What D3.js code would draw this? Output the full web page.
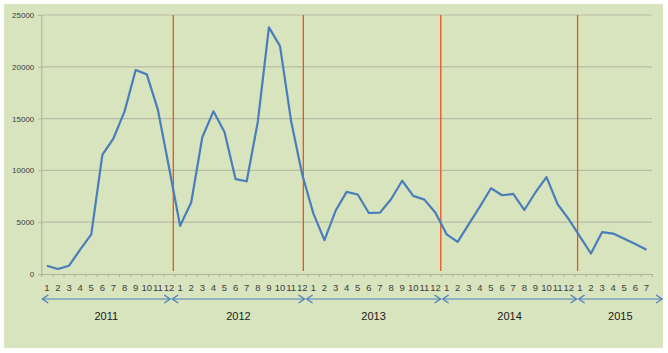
<!DOCTYPE html>
<html>
<head>
<meta charset="utf-8">
<script src="https://cdn.jsdelivr.net/npm/d3@7"></script>
<style>
  body { margin: 0; background: #fff; }
  text { font-family: "Liberation Sans", Arial, sans-serif; }
</style>
</head>
<body>
<svg id="chart" width="668" height="353"></svg>
<script>
// Data
const years = ["2011", "2012", "2013", "2014", "2015"]
const monthsPerYear = [12, 12, 12, 12, 7]
const values = [
  800, 480, 800, 2350, 3820, 11490, 13100, 15700, 19690, 19270, 15860, 10300,
  4650, 6900, 13200, 15700, 13700, 9150, 8950, 14700, 23800, 22000, 14750, 9600,
  5850, 3270, 6100, 7930, 7670, 5890, 5920, 7220, 9000, 7540, 7180, 5920,
  3830, 3100, 4820, 6500, 8280, 7600, 7730, 6180, 7870, 9350, 6730, 5290,
  3640, 1980, 4040, 3900, 3400, 2890, 2350
]
const yTicks = [0, 5000, 10000, 15000, 20000, 25000]
// year divider lines, in category units
const dividers = [11.89, 23.6, 35.98, 48.3]
// year arrow spans, in category units
const spans = [[0, 11.7], [11.7, 23.8], [23.8, 36.05], [36.05, 48.3], [48.3, 56]]

// Month labels 1..n per year
const months = []
monthsPerYear.forEach(n => { for (let m = 1; m <= n; m++) months.push(m) })

const svg = d3.select("#chart")
const margin = {top: 15, right: 16, bottom: 79, left: 41.3}
const width = 668 - margin.left - margin.right
const height = 353 - margin.top - margin.bottom

// Background panel
svg.append("rect")
  .attr("x", 4).attr("y", 4)
  .attr("width", 659).attr("height", 344)
  .attr("fill", "#d8e4bd")

const g = svg.append("g").attr("transform", "translate(" + margin.left + "," + margin.top + ")")

const x = d3.scaleLinear().domain([0, values.length]).range([0, width])
const y = d3.scaleLinear().domain([0, 25000]).range([height, 0])

// Gridlines
g.selectAll(".grid")
  .data(yTicks.filter(d => d > 0))
  .enter().append("line")
    .attr("x1", 0).attr("x2", width)
    .attr("y1", d => y(d)).attr("y2", d => y(d))
    .attr("stroke", "#b7bca6")
    .attr("stroke-width", 1.2)

// Y axis
const yAxis = g.append("g")
  .call(d3.axisLeft(y).tickValues(yTicks).tickFormat(d3.format("d")).tickSize(3).tickPadding(4))
yAxis.select(".domain").attr("stroke", "#b0b0a0")
yAxis.selectAll(".tick line").attr("stroke", "#b0b0a0")
yAxis.selectAll("text").attr("fill", "#404040").style("font-size", "8px")

// X axis (category ticks between months)
const xAxis = g.append("g")
  .attr("transform", "translate(0," + height + ")")
  .call(d3.axisBottom(x).tickValues(d3.range(0, values.length + 1)).tickSize(3).tickFormat(""))
xAxis.select(".domain").attr("stroke", "#b0b0a0")
xAxis.selectAll(".tick line").attr("stroke", "#b0b0a0")

g.append("g").selectAll("text")
  .data(months)
  .enter().append("text")
    .attr("x", (d, i) => x(i + 0.5))
    .attr("y", height + 17)
    .attr("text-anchor", "middle")
    .attr("fill", "#404040")
    .style("font-size", "9.5px")
    .text(d => d)

// Year divider lines
g.selectAll(".divider")
  .data(dividers)
  .enter().append("line")
    .attr("x1", d => x(d)).attr("x2", d => x(d))
    .attr("y1", 0).attr("y2", height - 3)
    .attr("stroke", "#f0501e")
    .attr("stroke-width", 1.3)

// Data line
const line = d3.line()
  .x((d, i) => x(i + 0.5))
  .y(d => y(d))

g.append("path")
  .datum(values)
  .attr("d", line)
  .attr("fill", "none")
  .attr("stroke", "#4a7ebb")
  .attr("stroke-width", 2.2)
  .attr("stroke-linejoin", "round")

// Year arrows
const arrowY = height + 25
const ya = g.append("g")
spans.forEach((s, i) => {
  const x0 = x(s[0]) + 1, x1 = x(s[1]) - 1
  ya.append("line")
    .attr("x1", x0).attr("x2", x1)
    .attr("y1", arrowY).attr("y2", arrowY)
    .attr("stroke", "#4a7ebb").attr("stroke-width", 1.2)
  ya.append("path")
    .attr("d", "M" + (x0 + 6) + "," + (arrowY - 4) + "L" + x0 + "," + arrowY + "L" + (x0 + 6) + "," + (arrowY + 4))
    .attr("fill", "none").attr("stroke", "#4a7ebb").attr("stroke-width", 1.2)
  ya.append("path")
    .attr("d", "M" + (x1 - 6) + "," + (arrowY - 4) + "L" + x1 + "," + arrowY + "L" + (x1 - 6) + "," + (arrowY + 4))
    .attr("fill", "none").attr("stroke", "#4a7ebb").attr("stroke-width", 1.2)
  ya.append("text")
    .attr("x", (x0 + x1) / 2)
    .attr("y", arrowY + 21)
    .attr("text-anchor", "middle")
    .attr("fill", "#1a1a1a")
    .style("font-size", "11px")
    .text(years[i])
})
</script>
</body>
</html>
